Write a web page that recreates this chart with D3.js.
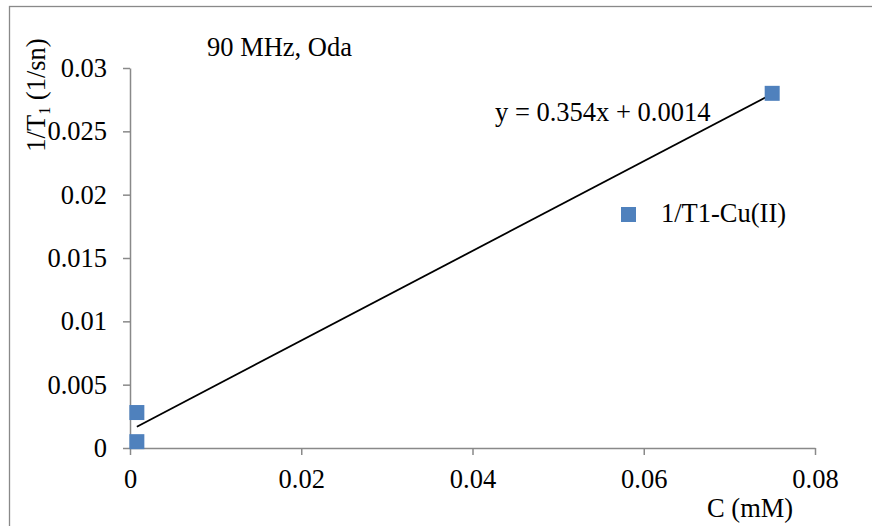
<!DOCTYPE html>
<html>
<head>
<meta charset="utf-8">
<script src="https://cdn.jsdelivr.net/npm/d3@7"></script>
<style>
  html, body { margin: 0; padding: 0; background: #fff; }
  svg { display: block; }
  text { font-family: "Liberation Serif", "Times New Roman", serif; fill: #000; }
</style>
</head>
<body>
<svg id="chart" width="872" height="526"></svg>
<script>
// Relaxation rate 1/T1 vs Cu(II) concentration
const seriesName = "1/T1-Cu(II)";
const concentration = [0.0008, 0.0008, 0.075];   // C (mM)
const relaxRate = [0.0028, 0.0005, 0.028];        // 1/T1 (1/sn)
const xTicks = [0, 0.02, 0.04, 0.06, 0.08];
const yTicks = [0, 0.005, 0.01, 0.015, 0.02, 0.025, 0.03];
const fitSlope = 0.354;
const fitIntercept = 0.0014;

const svg = d3.select("#chart");
const FONT = 26.5;
const axisColor = "#898989";
const markerColor = "#4F81BD";

// outer chart frame (runs past the right and bottom edges)
svg.append("rect")
  .attr("x", 9.5).attr("y", 6.5)
  .attr("width", 900).attr("height", 600)
  .attr("fill", "none").attr("stroke", axisColor).attr("stroke-width", 1.3);

const x = d3.scaleLinear().domain([0, 0.08]).range([130, 815]);
const y = d3.scaleLinear().domain([0, 0.03]).range([448, 68]);

// Y axis
const yAxis = svg.append("g")
  .attr("transform", `translate(${x(0)},0)`)
  .call(d3.axisLeft(y).tickValues(yTicks).tickFormat(d3.format("")).tickSize(7).tickSizeOuter(0).tickPadding(16));

// X axis
const xAxis = svg.append("g")
  .attr("transform", `translate(0,${y(0)})`)
  .call(d3.axisBottom(x).tickValues(xTicks).tickFormat(d3.format("")).tickSize(7).tickSizeOuter(0));

[yAxis, xAxis].forEach(g => {
  g.attr("font-family", null).attr("font-size", null);
  g.select(".domain").attr("stroke", axisColor).attr("stroke-width", 1.5);
  g.selectAll(".tick line").attr("stroke", axisColor).attr("stroke-width", 1.5);
  g.selectAll(".tick text").style("font-size", FONT + "px").attr("fill", "#000");
});
xAxis.selectAll(".tick text").attr("dy", null).attr("y", 40);

// trendline over the data range
const xr = d3.extent(concentration);
const line = d3.line().x(d => x(d)).y(d => y(fitSlope * d + fitIntercept));
svg.append("path")
  .datum(xr)
  .attr("d", line)
  .attr("fill", "none").attr("stroke", "#000").attr("stroke-width", 1.8);

// data markers
const M = 15;
svg.append("g").selectAll("rect")
  .data(concentration.map((c, i) => [c, relaxRate[i]]))
  .join("rect")
  .attr("x", d => x(d[0]) - M / 2)
  .attr("y", d => y(d[1]) - M / 2)
  .attr("width", M).attr("height", M)
  .attr("fill", markerColor);

// title
svg.append("text").attr("x", 207).attr("y", 56)
  .style("font-size", FONT + "px").text("90 MHz, Oda");

// trendline equation
svg.append("text").attr("x", 495).attr("y", 121)
  .style("font-size", FONT + "px")
  .text(`y = ${fitSlope}x + ${fitIntercept}`);

// legend
svg.append("rect").attr("x", 621).attr("y", 207).attr("width", M).attr("height", M).attr("fill", markerColor);
svg.append("text").attr("x", 661).attr("y", 222)
  .style("font-size", FONT + "px").text(seriesName);

// axis titles
svg.append("text").attr("x", 707).attr("y", 517)
  .style("font-size", FONT + "px").text("C (mM)");

const yTitle = svg.append("text")
  .attr("transform", "translate(45,95) rotate(-90)")
  .attr("text-anchor", "middle")
  .style("font-size", FONT + "px");
yTitle.append("tspan").text("1/T");
yTitle.append("tspan").attr("dy", 5).style("font-size", "16px").text("1");
yTitle.append("tspan").attr("dy", -5).text(" (1/sn)");
</script>
</body>
</html>
